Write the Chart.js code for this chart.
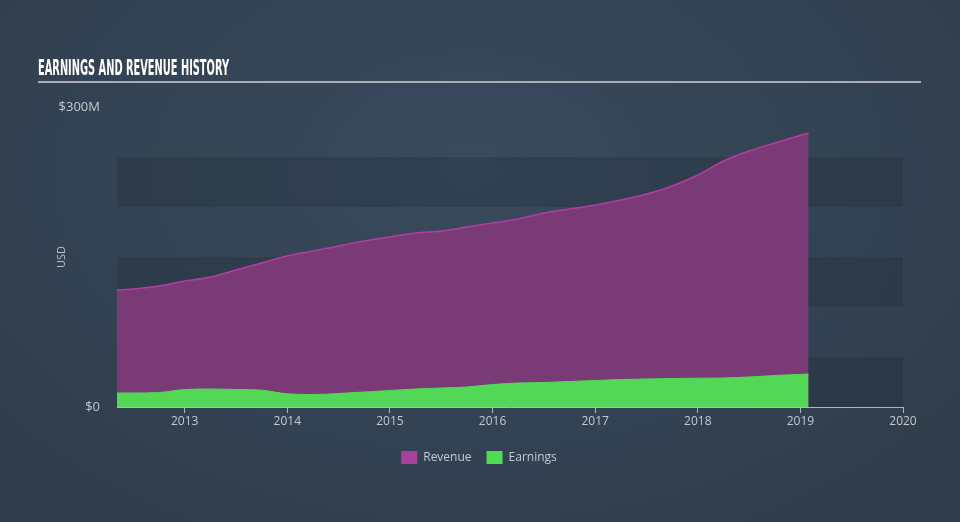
<!DOCTYPE html>
<html>
<head>
<meta charset="utf-8">
<script src="https://cdn.jsdelivr.net/npm/chart.js@4/dist/chart.umd.min.js"></script>
<style>
  html, body { margin: 0; padding: 0; }
  body {
    width: 960px; height: 522px; overflow: hidden;
    background: radial-gradient(ellipse 620px 420px at 470px 170px, #394a5c 0%, #344354 60%, #303d4b 100%);
  }
  #wrap { position: relative; width: 960px; height: 522px; }
</style>
</head>
<body>
<div id="wrap"><canvas id="earningsChart" width="960" height="522"></canvas></div>
<script>
// decimal years, roughly quarterly
const periods = [2012.34, 2012.5, 2012.75, 2013.0, 2013.25, 2013.5, 2013.75, 2014.0, 2014.25, 2014.5, 2014.75,
  2015.0, 2015.25, 2015.5, 2015.75, 2016.0, 2016.25, 2016.5, 2016.75, 2017.0, 2017.25, 2017.5, 2017.75,
  2018.0, 2018.25, 2018.5, 2018.75, 2019.08];
// USD millions
const revenue = [117, 118, 121, 126, 130, 137, 144, 151, 156, 161, 166,
  170, 174, 176, 180, 184, 188, 194, 198, 202, 207, 213, 221,
  232, 246, 256, 264, 274];
const earnings = [14, 14, 14.5, 17.5, 18, 17.5, 16.8, 13.2, 12.5, 13.5, 15,
  16.5, 18, 19, 20, 22.5, 24, 24.5, 25.5, 26.5, 27.5, 28, 28.5,
  28.8, 29, 30, 31.5, 33];
const yearTicks = [2013, 2014, 2015, 2016, 2017, 2018, 2019, 2020];
const valueTicks = [0, 300];
const bandEdges = [[0, 50], [100, 150], [200, 250]];

const labelColor = "#c3c9cf";

const toPoints = (vals) => vals.map((v, i) => ({ x: periods[i], y: v }));

// title, underline and shaded value bands
const backdrop = {
  id: "backdrop",
  beforeDatasetsDraw(chart) {
    const { ctx, chartArea, scales } = chart;
    ctx.save();
    ctx.fillStyle = "rgba(22, 30, 40, 0.2)";
    bandEdges.forEach(([lo, hi]) => {
      const top = scales.y.getPixelForValue(hi);
      const bottom = scales.y.getPixelForValue(lo);
      ctx.fillRect(chartArea.left, top, chartArea.right - chartArea.left, bottom - top);
    });
    ctx.restore();
  },
  afterDraw(chart) {
    const ctx = chart.ctx;
    ctx.save();
    ctx.font = "bold 21px 'Liberation Sans Narrow', 'DejaVu Sans Condensed', sans-serif";
    ctx.fillStyle = "#ffffff";
    ctx.textBaseline = "alphabetic";
    const text = "EARNINGS AND REVENUE HISTORY";
    const w = ctx.measureText(text).width;
    ctx.translate(38, 75);
    ctx.scale(191 / w, 1);
    ctx.fillText(text, 0, 0);
    ctx.restore();

    ctx.save();
    ctx.strokeStyle = "#a7aeb6";
    ctx.lineWidth = 2;
    ctx.beginPath();
    ctx.moveTo(38, 82);
    ctx.lineTo(921, 82);
    ctx.stroke();
    ctx.restore();
  }
};

new Chart(document.getElementById("earningsChart"), {
  type: "line",
  data: {
    datasets: [{
      label: "Revenue",
      data: toPoints(revenue),
      borderColor: "#b23ea2",
      backgroundColor: "#7a3a76",
      borderWidth: 1.5,
      fill: "origin",
      pointRadius: 0,
      cubicInterpolationMode: "monotone",
      order: 1
    }, {
      label: "Earnings",
      data: toPoints(earnings),
      borderColor: "#53d957",
      backgroundColor: "#52d756",
      borderWidth: 1,
      fill: "origin",
      pointRadius: 0,
      cubicInterpolationMode: "monotone",
      order: 0
    }]
  },
  options: {
    responsive: false,
    animation: false,
    layout: { padding: { top: 107, right: 57, left: 55, bottom: 48 } },
    plugins: {
      legend: {
        position: "bottom",
        labels: {
          boxWidth: 16,
          boxHeight: 13,
          padding: 15,
          color: labelColor,
          font: { family: "'Open Sans', sans-serif", size: 12 },
          generateLabels(chart) {
            const colors = ["#a9409c", "#4fdc55"];
            return chart.data.datasets.map((ds, i) => ({
              text: ds.label,
              fillStyle: colors[i],
              strokeStyle: colors[i],
              lineWidth: 0,
              fontColor: labelColor,
              datasetIndex: i
            }));
          }
        }
      },
      tooltip: { enabled: false }
    },
    scales: {
      x: {
        type: "linear",
        min: 2012.34,
        max: 2020,
        afterBuildTicks(axis) { axis.ticks = yearTicks.map(v => ({ value: v })); },
        afterFit(scale) { scale.height = 29; },
        grid: { drawOnChartArea: false, drawTicks: true, tickLength: 6, color: "#aeb5bd" },
        border: { color: "#aeb5bd", width: 1 },
        ticks: {
          color: labelColor,
          padding: 1,
          maxRotation: 0,
          font: { family: "'Open Sans', sans-serif", size: 12 },
          callback: (v) => String(v)
        }
      },
      y: {
        min: 0,
        max: 300,
        afterBuildTicks(axis) { axis.ticks = valueTicks.map(v => ({ value: v })); },
        afterFit(scale) { scale.width = 62; },
        grid: { display: false },
        border: { display: false },
        title: {
          display: true,
          text: "USD",
          color: "#b9bfc6",
          font: { family: "'Open Sans', sans-serif", size: 11 },
          padding: { top: 0, bottom: 0 }
        },
        ticks: {
          color: labelColor,
          padding: 9,
          font: { family: "'Open Sans', sans-serif", size: 13 },
          callback: (v) => v === 0 ? "$0" : "$" + v + "M"
        }
      }
    }
  },
  plugins: [backdrop]
});
</script>
</body>
</html>
